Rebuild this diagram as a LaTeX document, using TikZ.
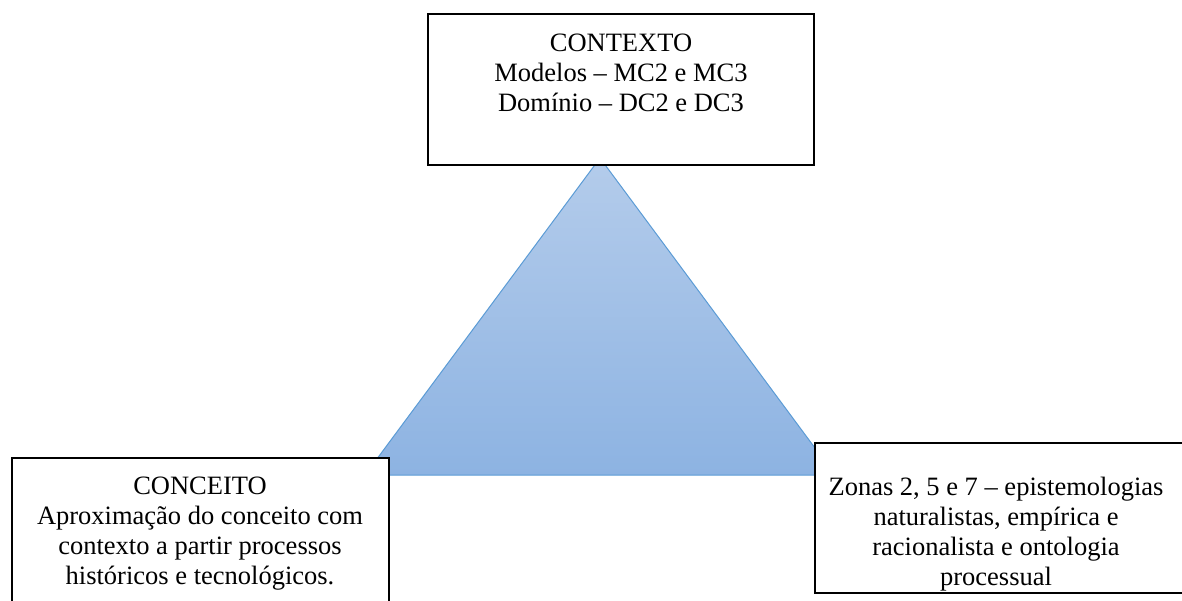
\documentclass[tikz,border=0pt]{standalone}
\usepackage{fontspec}
\setmainfont{Liberation Serif}
\definecolor{tritop}{RGB}{180,204,235}
\definecolor{tribot}{RGB}{141,179,226}
\definecolor{triedge}{RGB}{91,155,213}
\tikzset{
  box/.style={draw=black, line width=1.6pt, fill=white, inner sep=0pt},
  boxtext/.style={align=center, anchor=north, inner sep=0pt,
    font=\fontsize{26.5}{30}\selectfont},
}
\begin{document}
\begin{tikzpicture}[x=1pt,y=1pt]
\useasboundingbox (0,0) rectangle (1182,-601);
\clip (0,0) rectangle (1182,-601);
% triangle
\coordinate (apex) at (600,-158);
\coordinate (bl) at (365,-475);
\coordinate (br) at (835,-475);
\shade[top color=tritop, bottom color=tribot] (apex) -- (bl) -- (br) -- cycle;
\draw[triedge, line width=1pt, line join=miter] (apex) -- (bl) -- (br) -- cycle;
% boxes
\node[box, minimum width=386pt, minimum height=151pt] (ctx) at (621,-89.5) {};
\node[box, minimum width=377pt, minimum height=170pt] (cnc) at (200.5,-543) {};
\node[box, minimum width=400pt, minimum height=150pt] (zon) at (1015,-518) {};
% texts
\node[boxtext] (ctxt) at (621,-30) {\strut CONTEXTO\\Modelos – MC2 e MC3\\Domínio – DC2 e DC3};
\node[boxtext] (cnct) at (200,-473) {\strut CONCEITO\\Aproximação do conceito com\\contexto a partir processos\\históricos e tecnológicos.};
\node[boxtext] (zont) at (996,-474) {\strut Zonas 2, 5 e 7 – epistemologias\\naturalistas, empírica e\\racionalista e ontologia\\processual};
\end{tikzpicture}
\end{document}
